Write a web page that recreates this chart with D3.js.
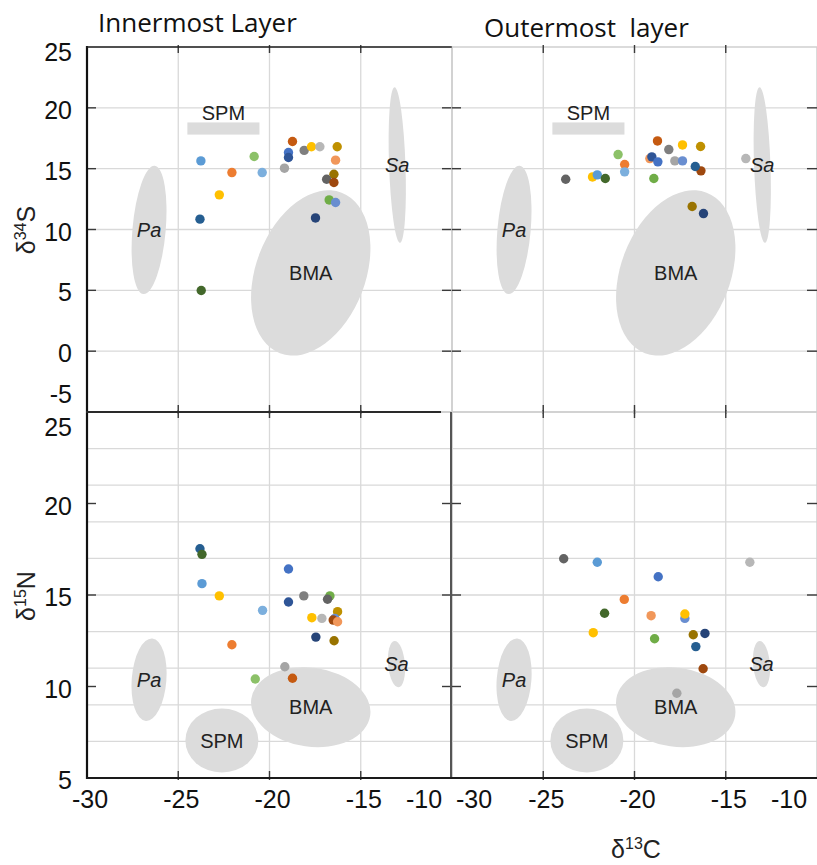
<!DOCTYPE html>
<html>
<head>
<meta charset="utf-8">
<script src="https://cdn.jsdelivr.net/npm/d3@7"></script>
<style>
  body { margin: 0; background: #fff; }
  svg { display: block; }
  .tick-label { font-family: "Liberation Sans", Arial, sans-serif; font-size: 25px; fill: #111; }
  .src-label { font-family: "Liberation Sans", Arial, sans-serif; font-size: 20px; fill: #222; }
</style>
</head>
<body>
<div id="chart"></div>
<script>
// axis ticks
var carbonTicks = [-30, -25, -20, -15, -10];
var sulfurTicks = [-5, 0, 5, 10, 15, 20, 25];
var nitrogenTicks = [5, 10, 15, 20, 25];
var nitrogenGrid = [7, 9, 11, 13, 15, 17, 19, 21, 23];

// series colours (one per species)
var palette = ["#5B9BD5", "#ED7D31", "#A5A5A5", "#FFC000", "#4472C4", "#70AD47",
  "#255E91", "#9E480E", "#636363", "#997300", "#264478", "#43682B", "#7CAFDD",
  "#F1975A", "#B7B7B7", "#698ED0", "#8CC168", "#C55A11", "#7F7F7F", "#BF9000", "#2F5597"];

// [d13C, d34S or d15N, colour index]
var innerS = [[-23.76, 15.64, 0], [-20.84, 16.0, 16], [-22.06, 14.68, 1], [-20.4, 14.68, 12],
  [-22.75, 12.85, 3], [-23.81, 10.85, 6], [-23.74, 4.99, 11], [-18.74, 17.23, 17],
  [-18.96, 16.33, 4], [-18.96, 15.92, 20], [-18.1, 16.5, 18], [-17.7, 16.8, 3],
  [-17.24, 16.8, 14], [-16.29, 16.8, 19], [-16.38, 15.7, 13], [-19.18, 15.04, 2],
  [-16.47, 14.54, 9], [-16.87, 14.13, 8], [-16.47, 13.86, 7], [-16.73, 12.43, 5],
  [-16.38, 12.22, 15], [-17.48, 10.95, 10]];
var outerS = [[-23.77, 14.13, 8], [-22.3, 14.32, 3], [-22.04, 14.49, 0], [-21.6, 14.19, 11],
  [-20.9, 16.16, 16], [-20.54, 15.34, 1], [-20.54, 14.74, 12], [-18.94, 14.19, 5],
  [-18.74, 17.28, 17], [-18.12, 16.57, 18], [-17.37, 16.95, 3], [-16.38, 16.82, 19],
  [-19.16, 15.83, 13], [-19.05, 15.97, 20], [-18.72, 15.56, 4], [-17.79, 15.64, 2],
  [-17.37, 15.64, 15], [-16.36, 14.82, 7], [-16.67, 15.18, 6], [-16.84, 11.89, 9],
  [-16.22, 11.31, 10], [-13.9, 15.83, 14]];
var innerN = [[-23.81, 17.53, 6], [-23.7, 17.22, 11], [-23.7, 15.62, 0], [-22.75, 14.95, 3],
  [-20.38, 14.16, 12], [-22.06, 12.28, 1], [-20.78, 10.41, 16], [-18.96, 16.42, 4],
  [-18.96, 14.62, 20], [-18.12, 14.95, 18], [-16.69, 14.95, 5], [-16.82, 14.77, 8],
  [-17.68, 13.76, 3], [-17.13, 13.72, 14], [-16.27, 14.09, 19], [-16.42, 13.72, 15],
  [-16.51, 13.63, 7], [-16.27, 13.54, 13], [-17.46, 12.7, 10], [-16.46, 12.5, 9],
  [-19.16, 11.08, 2], [-18.74, 10.45, 17]];
var outerN = [[-23.88, 16.98, 8], [-22.04, 16.79, 0], [-18.7, 16.0, 4], [-20.56, 14.76, 1],
  [-21.64, 14.0, 11], [-19.09, 13.87, 13], [-17.24, 13.72, 15], [-17.24, 13.96, 3],
  [-22.26, 12.94, 3], [-18.9, 12.61, 5], [-16.78, 12.83, 9], [-16.14, 12.9, 10],
  [-16.64, 12.18, 6], [-16.24, 10.97, 7], [-17.68, 9.63, 2], [-13.68, 16.79, 14]];

// food sources: centre, half-widths (data units), tilt in degrees
var sourcesS = [
  {name: "Pa", cx: -26.6, cy: 9.96, rx: 0.91, ry: 5.29, rot: 5, italic: true},
  {name: "BMA", cx: -17.74, cy: 6.43, rx: 3.0, ry: 7.07, rot: 21},
  {name: "Sa", cx: -13.0, cy: 15.3, rx: 0.45, ry: 6.4, rot: -2, italic: true}
];
var spmS = {x0: -24.5, x1: -20.55, y0: 17.8, y1: 18.8, labelY: 19.6};
var sourcesN = [
  {name: "Pa", cx: -26.6, cy: 10.37, rx: 0.95, ry: 2.26, rot: 4.5, italic: true},
  {name: "SPM", cx: -22.61, cy: 7.05, rx: 2.0, ry: 1.75, rot: 0},
  {name: "BMA", cx: -17.74, cy: 8.87, rx: 3.29, ry: 2.16, rot: 8},
  {name: "Sa", cx: -13.04, cy: 11.22, rx: 0.46, ry: 1.27, rot: -5, italic: true}
];

var width = 817, height = 865;
var svg = d3.select("#chart").append("svg")
  .attr("width", width).attr("height", height);

var panels = [
  {x0: 87, x1: 452, y0: 47, y1: 412, yDom: [-5, 25], pts: innerS, left: true, top: true},
  {x0: 452, x1: 817, y0: 47, y1: 412, yDom: [-5, 25], pts: outerS, left: false, top: true},
  {x0: 87, x1: 452, y0: 412, y1: 778, yDom: [5, 25], pts: innerN, left: true, top: false},
  {x0: 452, x1: 817, y0: 412, y1: 778, yDom: [5, 25], pts: outerN, left: false, top: false}
];

panels.forEach(function(p) {
  var x = d3.scaleLinear().domain([-30, -10]).range([p.x0, p.x1]);
  var y = d3.scaleLinear().domain(p.yDom).range([p.y1, p.y0]);
  var g = svg.append("g");

  // grid
  g.selectAll("line.vgrid").data(carbonTicks.slice(1, 4)).enter().append("line")
    .attr("x1", d => x(d)).attr("x2", d => x(d))
    .attr("y1", p.y0).attr("y2", p.y1)
    .style("stroke", "#d9d9d9").style("stroke-width", 1.3);
  var hg = p.top ? sulfurTicks.slice(1, 6) : nitrogenGrid;
  g.selectAll("line.hgrid").data(hg).enter().append("line")
    .attr("x1", p.x0).attr("x2", p.x1)
    .attr("y1", d => y(d)).attr("y2", d => y(d))
    .style("stroke", "#d9d9d9").style("stroke-width", 1.3);

  // source areas
  var src = p.top ? sourcesS : sourcesN;
  g.selectAll("ellipse").data(src).enter().append("ellipse")
    .attr("transform", d => "translate(" + x(d.cx) + "," + y(d.cy) + ") rotate(" + d.rot + ")")
    .attr("rx", d => x(d.cx + d.rx) - x(d.cx))
    .attr("ry", d => y(d.cy) - y(d.cy + d.ry))
    .style("fill", "#dcdcdc");
  if (p.top) {
    g.append("rect")
      .attr("x", x(spmS.x0)).attr("y", y(spmS.y1))
      .attr("width", x(spmS.x1) - x(spmS.x0))
      .attr("height", y(spmS.y0) - y(spmS.y1))
      .style("fill", "#dcdcdc");
  }

  // points
  g.selectAll("circle").data(p.pts).enter().append("circle")
    .attr("cx", d => x(d[0])).attr("cy", d => y(d[1]))
    .attr("r", 4.7)
    .style("fill", d => palette[d[2]]);

  // source labels
  g.selectAll("text.src").data(src).enter().append("text")
    .attr("class", "src-label")
    .attr("x", d => x(d.cx)).attr("y", d => y(d.cy))
    .attr("dy", "0.36em")
    .attr("text-anchor", "middle")
    .style("font-style", d => d.italic ? "italic" : "normal")
    .text(d => d.name);
  if (p.top) {
    g.append("text").attr("class", "src-label")
      .attr("x", x((spmS.x0 + spmS.x1) / 2)).attr("y", y(spmS.labelY))
      .attr("dy", "0.36em").attr("text-anchor", "middle")
      .text("SPM");
  }

  // frame
  g.append("rect")
    .attr("x", p.x0).attr("y", p.y0)
    .attr("width", p.x1 - p.x0).attr("height", p.y1 - p.y0)
    .style("fill", "none").style("stroke", "#cfcfcf").style("stroke-width", 1.5);

  // tick marks on all four sides
  var tk = "#3a3a3a";
  g.selectAll("line.tx").data(carbonTicks.slice(1, 4)).enter().append("line")
    .attr("x1", d => x(d)).attr("x2", d => x(d))
    .attr("y1", p.y0 - 2).attr("y2", p.y0 + 6)
    .style("stroke", tk).style("stroke-width", 1.4);
  g.selectAll("line.bx").data(carbonTicks.slice(1, 4)).enter().append("line")
    .attr("x1", d => x(d)).attr("x2", d => x(d))
    .attr("y1", p.y1 - 7).attr("y2", p.y1 + 2)
    .style("stroke", tk).style("stroke-width", 1.4);
  var yt = p.top ? sulfurTicks.slice(1, 6) : nitrogenTicks.slice(1, 4);
  g.selectAll("line.ly").data(yt).enter().append("line")
    .attr("x1", p.x0).attr("x2", p.x0 + 9)
    .attr("y1", d => y(d)).attr("y2", d => y(d))
    .style("stroke", tk).style("stroke-width", 1.4);
  g.selectAll("line.ry").data(yt).enter().append("line")
    .attr("x1", p.x1 - 10).attr("x2", p.x1)
    .attr("y1", d => y(d)).attr("y2", d => y(d))
    .style("stroke", tk).style("stroke-width", 1.4);

  // y tick labels on the left panels
  if (p.left) {
    var yl = p.top ? sulfurTicks : nitrogenTicks;
    svg.selectAll(null).data(yl).enter().append("text")
      .attr("class", "tick-label")
      .attr("x", 72).attr("text-anchor", "end")
      .attr("y", function(d) {
        var nudge = 2;
        if (p.top && d === 25) nudge = 5;
        if (p.top && d === -5) nudge = -18;
        if (!p.top && d === 25) nudge = 15;
        return y(d) + nudge;
      })
      .attr("dy", "0.36em")
      .text(d => d);
  }

  // x tick labels under the bottom panels
  if (!p.top) {
    svg.selectAll(null).data(carbonTicks).enter().append("text")
      .attr("class", "tick-label")
      .attr("text-anchor", "middle")
      .attr("x", function(d) {
        if (d === -10) return x(d) - 28;
        if (d === -30 && !p.left) return x(d) + 22;
        return x(d) + 3;
      })
      .attr("y", 799).attr("dy", "0.36em")
      .text(d => d);
  }
});

// dark axis lines
var ax = svg.append("g").style("stroke-linecap", "square");
ax.append("line").attr("x1", 87).attr("x2", 87).attr("y1", 47).attr("y2", 778)
  .style("stroke", "#111").style("stroke-width", 2.2);
ax.append("line").attr("x1", 87).attr("x2", 451).attr("y1", 47).attr("y2", 47)
  .style("stroke", "#222").style("stroke-width", 1.5);
ax.append("line").attr("x1", 87).attr("x2", 440).attr("y1", 412).attr("y2", 412)
  .style("stroke", "#2a2a2a").style("stroke-width", 2);
ax.append("line").attr("x1", 451).attr("x2", 451).attr("y1", 413).attr("y2", 778)
  .style("stroke", "#555").style("stroke-width", 2);
ax.append("line").attr("x1", 87).attr("x2", 816).attr("y1", 778).attr("y2", 778)
  .style("stroke", "#1a1a1a").style("stroke-width", 2);

// titles
svg.append("text").attr("x", 98).attr("y", 32)
  .style("font-family", "'Open Sans', sans-serif").style("font-size", "26px").style("fill", "#111")
  .text("Innermost Layer");
svg.append("text").attr("x", 484).attr("y", 37)
  .style("font-family", "'Open Sans', sans-serif").style("font-size", "26px").style("fill", "#111")
  .style("white-space", "pre")
  .text("Outermost  layer");

function axisTitle(tx, ty, rot, sup, letter) {
  var t = svg.append("text")
    .attr("transform", "translate(" + tx + "," + ty + ") rotate(" + rot + ")")
    .attr("text-anchor", "middle")
    .style("font-family", "'Liberation Sans', Arial, sans-serif")
    .style("font-size", "25px").style("fill", "#222");
  t.append("tspan").text("δ");
  t.append("tspan").attr("dy", -9).style("font-size", "16px").text(sup);
  t.append("tspan").attr("dy", 9).text(letter);
}
axisTitle(35, 230, -90, "34", "S");
axisTitle(35, 596, -90, "15", "N");
axisTitle(636, 858, 0, "13", "C");
</script>
</body>
</html>
